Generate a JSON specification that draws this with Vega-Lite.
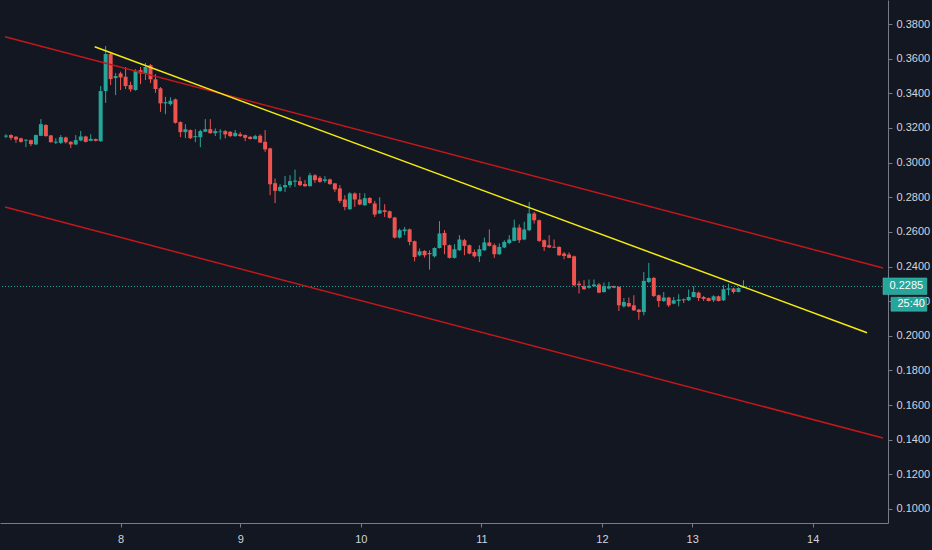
{
  "$schema": "https://vega.github.io/schema/vega-lite/v6.json",
  "description": "Hourly candles, 8th to 13th, with a descending channel and a trend line.",
  "width": 888,
  "height": 523,
  "autosize": "none",
  "padding": {"left": 0, "top": 0, "right": 44, "bottom": 27},
  "background": "#131722",
  "config": {
    "view": {"stroke": null},
    "font": "Liberation Sans",
    "axis": {
      "grid": false,
      "title": null,
      "domainColor": "#787b86",
      "tickColor": "#787b86",
      "tickSize": 4,
      "labelColor": "#d1d4dc",
      "labelFontSize": 11,
      "labelOverlap": false
    },
    "axisX": {"labelPadding": 6},
    "axisY": {"labelPadding": 4}
  },
  "datasets": {
    "candles": [
      {"i": 0, "o": 0.3150, "h": 0.3164, "l": 0.3141, "c": 0.3156},
      {"i": 1, "o": 0.3159, "h": 0.3164, "l": 0.3130, "c": 0.3143},
      {"i": 2, "o": 0.3149, "h": 0.3153, "l": 0.3114, "c": 0.3134},
      {"i": 3, "o": 0.3140, "h": 0.3144, "l": 0.3115, "c": 0.3120},
      {"i": 4, "o": 0.3127, "h": 0.3136, "l": 0.3089, "c": 0.3132},
      {"i": 5, "o": 0.3130, "h": 0.3133, "l": 0.3095, "c": 0.3107},
      {"i": 6, "o": 0.3105, "h": 0.3162, "l": 0.3101, "c": 0.3159},
      {"i": 7, "o": 0.3155, "h": 0.3251, "l": 0.3153, "c": 0.3222},
      {"i": 8, "o": 0.3217, "h": 0.3222, "l": 0.3150, "c": 0.3153},
      {"i": 9, "o": 0.3157, "h": 0.3160, "l": 0.3115, "c": 0.3118},
      {"i": 10, "o": 0.3115, "h": 0.3141, "l": 0.3107, "c": 0.3121},
      {"i": 11, "o": 0.3114, "h": 0.3159, "l": 0.3107, "c": 0.3147},
      {"i": 12, "o": 0.3145, "h": 0.3150, "l": 0.3110, "c": 0.3118},
      {"i": 13, "o": 0.3120, "h": 0.3124, "l": 0.3084, "c": 0.3105},
      {"i": 14, "o": 0.3105, "h": 0.3159, "l": 0.3101, "c": 0.3130},
      {"i": 15, "o": 0.3128, "h": 0.3183, "l": 0.3124, "c": 0.3151},
      {"i": 16, "o": 0.3151, "h": 0.3155, "l": 0.3116, "c": 0.3120},
      {"i": 17, "o": 0.3126, "h": 0.3164, "l": 0.3124, "c": 0.3137},
      {"i": 18, "o": 0.3136, "h": 0.3139, "l": 0.3122, "c": 0.3126},
      {"i": 19, "o": 0.3124, "h": 0.3442, "l": 0.3120, "c": 0.3413},
      {"i": 20, "o": 0.3413, "h": 0.3673, "l": 0.3345, "c": 0.3627},
      {"i": 21, "o": 0.3627, "h": 0.3640, "l": 0.3448, "c": 0.3482},
      {"i": 22, "o": 0.3488, "h": 0.3517, "l": 0.3390, "c": 0.3500},
      {"i": 23, "o": 0.3515, "h": 0.3525, "l": 0.3419, "c": 0.3492},
      {"i": 24, "o": 0.3496, "h": 0.3552, "l": 0.3425, "c": 0.3442},
      {"i": 25, "o": 0.3448, "h": 0.3467, "l": 0.3409, "c": 0.3423},
      {"i": 26, "o": 0.3419, "h": 0.3540, "l": 0.3415, "c": 0.3530},
      {"i": 27, "o": 0.3534, "h": 0.3552, "l": 0.3453, "c": 0.3515},
      {"i": 28, "o": 0.3515, "h": 0.3575, "l": 0.3477, "c": 0.3552},
      {"i": 29, "o": 0.3563, "h": 0.3569, "l": 0.3459, "c": 0.3481},
      {"i": 30, "o": 0.3481, "h": 0.3511, "l": 0.3403, "c": 0.3425},
      {"i": 31, "o": 0.3429, "h": 0.3436, "l": 0.3293, "c": 0.3342},
      {"i": 32, "o": 0.3342, "h": 0.3380, "l": 0.3280, "c": 0.3349},
      {"i": 33, "o": 0.3338, "h": 0.3377, "l": 0.3330, "c": 0.3357},
      {"i": 34, "o": 0.3365, "h": 0.3370, "l": 0.3225, "c": 0.3230},
      {"i": 35, "o": 0.3234, "h": 0.3238, "l": 0.3147, "c": 0.3176},
      {"i": 36, "o": 0.3176, "h": 0.3222, "l": 0.3141, "c": 0.3193},
      {"i": 37, "o": 0.3188, "h": 0.3192, "l": 0.3136, "c": 0.3141},
      {"i": 38, "o": 0.3147, "h": 0.3193, "l": 0.3118, "c": 0.3153},
      {"i": 39, "o": 0.3147, "h": 0.3190, "l": 0.3089, "c": 0.3182},
      {"i": 40, "o": 0.3178, "h": 0.3251, "l": 0.3176, "c": 0.3193},
      {"i": 41, "o": 0.3193, "h": 0.3251, "l": 0.3167, "c": 0.3170},
      {"i": 42, "o": 0.3170, "h": 0.3197, "l": 0.3153, "c": 0.3182},
      {"i": 43, "o": 0.3176, "h": 0.3193, "l": 0.3134, "c": 0.3180},
      {"i": 44, "o": 0.3182, "h": 0.3188, "l": 0.3140, "c": 0.3163},
      {"i": 45, "o": 0.3178, "h": 0.3182, "l": 0.3147, "c": 0.3153},
      {"i": 46, "o": 0.3153, "h": 0.3188, "l": 0.3149, "c": 0.3172},
      {"i": 47, "o": 0.3164, "h": 0.3176, "l": 0.3149, "c": 0.3153},
      {"i": 48, "o": 0.3159, "h": 0.3162, "l": 0.3124, "c": 0.3143},
      {"i": 49, "o": 0.3149, "h": 0.3153, "l": 0.3134, "c": 0.3136},
      {"i": 50, "o": 0.3136, "h": 0.3161, "l": 0.3134, "c": 0.3153},
      {"i": 51, "o": 0.3155, "h": 0.3164, "l": 0.3114, "c": 0.3116},
      {"i": 52, "o": 0.3120, "h": 0.3188, "l": 0.3062, "c": 0.3076},
      {"i": 53, "o": 0.3082, "h": 0.3086, "l": 0.2812, "c": 0.2875},
      {"i": 54, "o": 0.2881, "h": 0.2908, "l": 0.2766, "c": 0.2837},
      {"i": 55, "o": 0.2837, "h": 0.2875, "l": 0.2831, "c": 0.2860},
      {"i": 56, "o": 0.2858, "h": 0.2923, "l": 0.2831, "c": 0.2870},
      {"i": 57, "o": 0.2870, "h": 0.2927, "l": 0.2856, "c": 0.2893},
      {"i": 58, "o": 0.2890, "h": 0.2960, "l": 0.2860, "c": 0.2896},
      {"i": 59, "o": 0.2893, "h": 0.2918, "l": 0.2864, "c": 0.2870},
      {"i": 60, "o": 0.2876, "h": 0.2899, "l": 0.2860, "c": 0.2864},
      {"i": 61, "o": 0.2864, "h": 0.2941, "l": 0.2862, "c": 0.2927},
      {"i": 62, "o": 0.2927, "h": 0.2933, "l": 0.2883, "c": 0.2899},
      {"i": 63, "o": 0.2912, "h": 0.2922, "l": 0.2883, "c": 0.2889},
      {"i": 64, "o": 0.2894, "h": 0.2922, "l": 0.2883, "c": 0.2903},
      {"i": 65, "o": 0.2903, "h": 0.2908, "l": 0.2872, "c": 0.2876},
      {"i": 66, "o": 0.2880, "h": 0.2883, "l": 0.2831, "c": 0.2845},
      {"i": 67, "o": 0.2851, "h": 0.2870, "l": 0.2766, "c": 0.2779},
      {"i": 68, "o": 0.2787, "h": 0.2812, "l": 0.2725, "c": 0.2744},
      {"i": 69, "o": 0.2731, "h": 0.2829, "l": 0.2727, "c": 0.2822},
      {"i": 70, "o": 0.2822, "h": 0.2828, "l": 0.2744, "c": 0.2787},
      {"i": 71, "o": 0.2787, "h": 0.2825, "l": 0.2754, "c": 0.2758},
      {"i": 72, "o": 0.2754, "h": 0.2823, "l": 0.2750, "c": 0.2795},
      {"i": 73, "o": 0.2796, "h": 0.2800, "l": 0.2762, "c": 0.2767},
      {"i": 74, "o": 0.2764, "h": 0.2779, "l": 0.2686, "c": 0.2700},
      {"i": 75, "o": 0.2706, "h": 0.2800, "l": 0.2704, "c": 0.2725},
      {"i": 76, "o": 0.2725, "h": 0.2760, "l": 0.2686, "c": 0.2715},
      {"i": 77, "o": 0.2719, "h": 0.2723, "l": 0.2677, "c": 0.2681},
      {"i": 78, "o": 0.2683, "h": 0.2687, "l": 0.2562, "c": 0.2567},
      {"i": 79, "o": 0.2567, "h": 0.2619, "l": 0.2562, "c": 0.2610},
      {"i": 80, "o": 0.2604, "h": 0.2629, "l": 0.2581, "c": 0.2614},
      {"i": 81, "o": 0.2615, "h": 0.2619, "l": 0.2523, "c": 0.2542},
      {"i": 82, "o": 0.2546, "h": 0.2550, "l": 0.2430, "c": 0.2455},
      {"i": 83, "o": 0.2465, "h": 0.2504, "l": 0.2459, "c": 0.2488},
      {"i": 84, "o": 0.2490, "h": 0.2494, "l": 0.2452, "c": 0.2465},
      {"i": 85, "o": 0.2478, "h": 0.2494, "l": 0.2382, "c": 0.2471},
      {"i": 86, "o": 0.2459, "h": 0.2511, "l": 0.2452, "c": 0.2507},
      {"i": 87, "o": 0.2507, "h": 0.2662, "l": 0.2504, "c": 0.2591},
      {"i": 88, "o": 0.2594, "h": 0.2610, "l": 0.2471, "c": 0.2523},
      {"i": 89, "o": 0.2523, "h": 0.2527, "l": 0.2446, "c": 0.2450},
      {"i": 90, "o": 0.2450, "h": 0.2529, "l": 0.2446, "c": 0.2500},
      {"i": 91, "o": 0.2494, "h": 0.2581, "l": 0.2490, "c": 0.2556},
      {"i": 92, "o": 0.2552, "h": 0.2560, "l": 0.2465, "c": 0.2519},
      {"i": 93, "o": 0.2523, "h": 0.2527, "l": 0.2471, "c": 0.2475},
      {"i": 94, "o": 0.2484, "h": 0.2498, "l": 0.2452, "c": 0.2459},
      {"i": 95, "o": 0.2459, "h": 0.2523, "l": 0.2426, "c": 0.2500},
      {"i": 96, "o": 0.2494, "h": 0.2567, "l": 0.2490, "c": 0.2539},
      {"i": 97, "o": 0.2539, "h": 0.2614, "l": 0.2515, "c": 0.2519},
      {"i": 98, "o": 0.2523, "h": 0.2533, "l": 0.2450, "c": 0.2471},
      {"i": 99, "o": 0.2471, "h": 0.2533, "l": 0.2467, "c": 0.2513},
      {"i": 100, "o": 0.2510, "h": 0.2552, "l": 0.2506, "c": 0.2542},
      {"i": 101, "o": 0.2536, "h": 0.2581, "l": 0.2529, "c": 0.2556},
      {"i": 102, "o": 0.2548, "h": 0.2671, "l": 0.2546, "c": 0.2625},
      {"i": 103, "o": 0.2625, "h": 0.2643, "l": 0.2536, "c": 0.2552},
      {"i": 104, "o": 0.2556, "h": 0.2658, "l": 0.2552, "c": 0.2614},
      {"i": 105, "o": 0.2610, "h": 0.2773, "l": 0.2604, "c": 0.2706},
      {"i": 106, "o": 0.2706, "h": 0.2715, "l": 0.2648, "c": 0.2667},
      {"i": 107, "o": 0.2667, "h": 0.2671, "l": 0.2542, "c": 0.2548},
      {"i": 108, "o": 0.2552, "h": 0.2556, "l": 0.2490, "c": 0.2513},
      {"i": 109, "o": 0.2523, "h": 0.2581, "l": 0.2507, "c": 0.2510},
      {"i": 110, "o": 0.2514, "h": 0.2556, "l": 0.2507, "c": 0.2509},
      {"i": 111, "o": 0.2513, "h": 0.2517, "l": 0.2462, "c": 0.2465},
      {"i": 112, "o": 0.2475, "h": 0.2484, "l": 0.2442, "c": 0.2461},
      {"i": 113, "o": 0.2469, "h": 0.2481, "l": 0.2448, "c": 0.2450},
      {"i": 114, "o": 0.2459, "h": 0.2463, "l": 0.2286, "c": 0.2292},
      {"i": 115, "o": 0.2301, "h": 0.2317, "l": 0.2244, "c": 0.2292},
      {"i": 116, "o": 0.2288, "h": 0.2321, "l": 0.2265, "c": 0.2269},
      {"i": 117, "o": 0.2278, "h": 0.2325, "l": 0.2273, "c": 0.2288},
      {"i": 118, "o": 0.2286, "h": 0.2325, "l": 0.2282, "c": 0.2296},
      {"i": 119, "o": 0.2296, "h": 0.2305, "l": 0.2246, "c": 0.2249},
      {"i": 120, "o": 0.2253, "h": 0.2307, "l": 0.2249, "c": 0.2286},
      {"i": 121, "o": 0.2273, "h": 0.2311, "l": 0.2267, "c": 0.2286},
      {"i": 122, "o": 0.2287, "h": 0.2290, "l": 0.2275, "c": 0.2278},
      {"i": 123, "o": 0.2282, "h": 0.2286, "l": 0.2143, "c": 0.2176},
      {"i": 124, "o": 0.2170, "h": 0.2218, "l": 0.2163, "c": 0.2195},
      {"i": 125, "o": 0.2189, "h": 0.2221, "l": 0.2165, "c": 0.2170},
      {"i": 126, "o": 0.2176, "h": 0.2234, "l": 0.2143, "c": 0.2147},
      {"i": 127, "o": 0.2151, "h": 0.2155, "l": 0.2093, "c": 0.2137},
      {"i": 128, "o": 0.2137, "h": 0.2369, "l": 0.2118, "c": 0.2317},
      {"i": 129, "o": 0.2311, "h": 0.2421, "l": 0.2305, "c": 0.2334},
      {"i": 130, "o": 0.2334, "h": 0.2340, "l": 0.2224, "c": 0.2230},
      {"i": 131, "o": 0.2234, "h": 0.2238, "l": 0.2166, "c": 0.2201},
      {"i": 132, "o": 0.2201, "h": 0.2253, "l": 0.2195, "c": 0.2221},
      {"i": 133, "o": 0.2221, "h": 0.2225, "l": 0.2166, "c": 0.2176},
      {"i": 134, "o": 0.2186, "h": 0.2224, "l": 0.2182, "c": 0.2205},
      {"i": 135, "o": 0.2201, "h": 0.2240, "l": 0.2170, "c": 0.2209},
      {"i": 136, "o": 0.2211, "h": 0.2215, "l": 0.2189, "c": 0.2205},
      {"i": 137, "o": 0.2205, "h": 0.2267, "l": 0.2201, "c": 0.2224},
      {"i": 138, "o": 0.2224, "h": 0.2286, "l": 0.2221, "c": 0.2253},
      {"i": 139, "o": 0.2249, "h": 0.2255, "l": 0.2201, "c": 0.2218},
      {"i": 140, "o": 0.2224, "h": 0.2230, "l": 0.2201, "c": 0.2213},
      {"i": 141, "o": 0.2218, "h": 0.2221, "l": 0.2198, "c": 0.2201},
      {"i": 142, "o": 0.2205, "h": 0.2234, "l": 0.2195, "c": 0.2228},
      {"i": 143, "o": 0.2228, "h": 0.2232, "l": 0.2198, "c": 0.2201},
      {"i": 144, "o": 0.2205, "h": 0.2292, "l": 0.2201, "c": 0.2269},
      {"i": 145, "o": 0.2266, "h": 0.2301, "l": 0.2234, "c": 0.2274},
      {"i": 146, "o": 0.2273, "h": 0.2278, "l": 0.2244, "c": 0.2253},
      {"i": 147, "o": 0.2253, "h": 0.2280, "l": 0.2251, "c": 0.2276},
      {"i": 148, "o": 0.2277, "h": 0.2321, "l": 0.2276, "c": 0.2285}
    ],
    "lines": [
      {"line": "channel top", "i": -0.2, "v": 0.3727},
      {"line": "channel top", "i": 176, "v": 0.2392},
      {"line": "channel bottom", "i": -0.2, "v": 0.2744},
      {"line": "channel bottom", "i": 176, "v": 0.1410},
      {"line": "trend", "i": 17.8, "v": 0.3669},
      {"line": "trend", "i": 172.8, "v": 0.2018}
    ],
    "tags": [
      {"tag": "price", "text": "0.2285", "x1": 176, "x2": 184.8, "top": 0.2334, "bottom": 0.2238, "tx": 177.3, "ty": 0.2285},
      {"tag": "timer", "text": "25:40", "x1": 177.6, "x2": 184.8, "top": 0.2223, "bottom": 0.2142, "tx": 178.9, "ty": 0.2182}
    ]
  },
  "layer": [
    {
      "data": {"name": "candles"},
      "mark": {"type": "rule", "strokeWidth": 1},
      "encoding": {
        "x": {
          "field": "i",
          "type": "quantitative",
          "scale": {"domain": [-0.2, 176], "nice": false, "zero": false},
          "axis": {
            "values": [23, 47, 71.2, 95.4, 119.6, 137.7, 161.9],
            "tickCount": 20,
            "labelExpr": "datum.value < 30 ? '8' : datum.value < 55 ? '9' : datum.value < 80 ? '10' : datum.value < 100 ? '11' : datum.value < 125 ? '12' : datum.value < 150 ? '13' : '14'"
          }
        },
        "y": {
          "field": "l",
          "type": "quantitative",
          "scale": {"domain": [0.0919, 0.3939], "nice": false, "zero": false},
          "axis": {
            "orient": "right",
            "values": [0.10, 0.12, 0.14, 0.16, 0.18, 0.20, 0.22, 0.24, 0.26, 0.28, 0.30, 0.32, 0.34, 0.36, 0.38],
            "tickCount": 30,
            "format": ".4f"
          }
        },
        "y2": {"field": "h"},
        "color": {
          "condition": {"test": "datum.c >= datum.o", "value": "#26a69a"},
          "value": "#ef5350"
        }
      }
    },
    {
      "data": {"name": "candles"},
      "mark": {"type": "bar", "size": 4},
      "encoding": {
        "x": {"field": "i", "type": "quantitative"},
        "y": {"field": "o", "type": "quantitative"},
        "y2": {"field": "c"},
        "color": {
          "condition": {"test": "datum.c >= datum.o", "value": "#26a69a"},
          "value": "#ef5350"
        }
      }
    },
    {
      "data": {"values": [{"last": 0.2285}]},
      "mark": {"type": "rule", "strokeDash": [1, 2], "strokeWidth": 1, "color": "#26a69a"},
      "encoding": {
        "y": {"field": "last", "type": "quantitative"}
      }
    },
    {
      "data": {"name": "lines"},
      "mark": {"type": "line", "clip": true},
      "encoding": {
        "x": {"field": "i", "type": "quantitative"},
        "y": {"field": "v", "type": "quantitative"},
        "detail": {"field": "line"},
        "color": {
          "field": "line",
          "type": "nominal",
          "scale": {"domain": ["channel top", "channel bottom", "trend"], "range": ["#c2181b", "#c2181b", "#f5eb0e"]},
          "legend": null
        },
        "strokeWidth": {
          "field": "line",
          "type": "nominal",
          "scale": {"domain": ["channel top", "channel bottom", "trend"], "range": [1.5, 1.5, 3]},
          "legend": null
        }
      }
    },
    {
      "data": {"name": "tags"},
      "mark": {"type": "rect", "clip": false, "color": "#26a69a", "stroke": "#4fc1b6", "strokeWidth": 0.5},
      "encoding": {
        "x": {"field": "x1", "type": "quantitative"},
        "x2": {"field": "x2"},
        "y": {"field": "top", "type": "quantitative"},
        "y2": {"field": "bottom"}
      }
    },
    {
      "data": {"name": "tags"},
      "mark": {"type": "text", "clip": false, "align": "left", "baseline": "middle", "color": "#ffffff", "fontSize": 11},
      "encoding": {
        "x": {"field": "tx", "type": "quantitative"},
        "y": {"field": "ty", "type": "quantitative"},
        "text": {"field": "text"}
      }
    }
  ]
}
